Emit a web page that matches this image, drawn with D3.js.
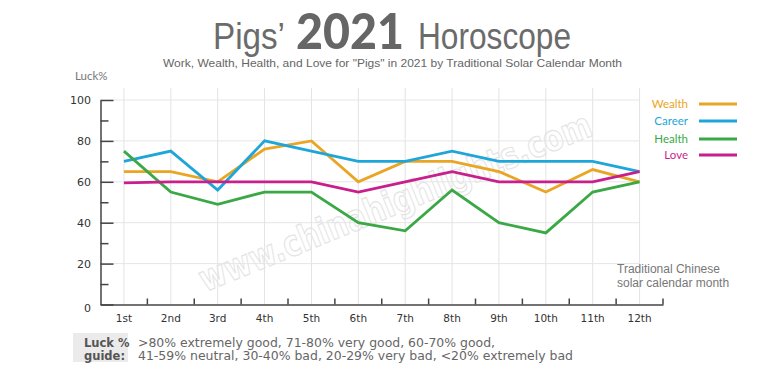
<!DOCTYPE html>
<html><head><meta charset="utf-8">
<script src="https://cdn.jsdelivr.net/npm/d3@7"></script>
<style>body{margin:0;background:#fff;} svg{display:block;}</style>
</head><body>
<svg id="c" width="768" height="369"></svg>
<script>
const months = ["1st","2nd","3rd","4th","5th","6th","7th","8th","9th","10th","11th","12th"];
const wealth = [65,65,60,76,80,60,70,70,65,55,66,60];
const career = [70,75,56,80,75,70,70,75,70,70,70,65];
const health = [75,55,49,55,55,40,36,56,40,35,55,60];
const love   = [59.5,60,60,60,60,55,60,65,60,60,60,65];
const seriesNames = ["Wealth","Career","Health","Love"];
const seriesColors = ["#e9a524","#1ea6d9","#3aa845","#c81f8c"];
const yTicks = [0,20,40,60,80,100];
const guideLines = [">80% extremely good, 71-80% very good, 60-70% good,",
  "41-59% neutral, 30-40% bad, 20-29% very bad, <20% extremely bad"];

const svg = d3.select("#c");
const x = d3.scaleBand().domain(months).range([100.5, 663]);
const y = d3.scaleLinear().domain([0,100]).range([304.5, 100]);
const cx = m => x(m) + x.bandwidth()/2;

// Title
const tf = "'Liberation Sans', Arial, sans-serif";
svg.append("text").attr("x",213).attr("y",49).attr("font-family",tf).attr("font-size",36)
  .attr("fill","#6b6b6b").attr("textLength",72).attr("lengthAdjust","spacingAndGlyphs").text("Pigs’");
svg.append("text").attr("x",296).attr("y",49).attr("font-family","'Lato', 'DejaVu Sans', sans-serif")
  .attr("font-weight",900).attr("font-size",50).attr("fill","#666")
  .attr("textLength",108).attr("lengthAdjust","spacingAndGlyphs").text("2021");
svg.append("text").attr("x",418).attr("y",49).attr("font-family",tf).attr("font-size",36)
  .attr("fill","#6b6b6b").attr("textLength",153).attr("lengthAdjust","spacingAndGlyphs").text("Horoscope");
svg.append("text").attr("x",163).attr("y",67).attr("font-family",tf).attr("font-size",11.5)
  .attr("fill","#666").attr("textLength",459).attr("lengthAdjust","spacingAndGlyphs")
  .text("Work, Wealth, Health, and Love for \"Pigs\" in 2021 by Traditional Solar Calendar Month");
svg.append("text").attr("x",75).attr("y",80).attr("font-family","'Lato', sans-serif").attr("font-size",11.5)
  .attr("fill","#777").text("Luck%");

// Watermark
svg.append("text").attr("transform","translate(205,292) rotate(-22)")
  .attr("font-family","'DejaVu Sans', Verdana, sans-serif").attr("font-size",36).attr("font-weight","bold")
  .attr("fill","none").attr("stroke","#e4e4e4").attr("stroke-width",1.2)
  .attr("textLength",420).attr("lengthAdjust","spacingAndGlyphs").text("www.chinahighlights.com");

// Gridlines
const g = svg.append("g");
g.selectAll(".vg").data(months).join("line")
  .attr("x1",cx).attr("x2",cx).attr("y1",88).attr("y2",304.5)
  .attr("stroke","#e3e3e3").attr("stroke-width",1);
g.selectAll(".hg").data(yTicks.slice(1)).join("line")
  .attr("x1",100.5).attr("x2",cx("12th")).attr("y1",d=>y(d)).attr("y2",d=>y(d))
  .attr("stroke","#e6e6e6").attr("stroke-width",1);

// Y axis
const yAxis = d3.axisRight(y).tickValues([0,10,20,30,40,50,60,70,80,90,100])
  .tickSize(0).tickFormat("");
const ya = svg.append("g").attr("transform","translate(100.5,0)").call(yAxis);
ya.select(".domain").attr("stroke","#444").attr("stroke-width",1.5);
ya.selectAll(".tick line").attr("stroke","#444").attr("stroke-width",1.5)
  .attr("x2",d=>d%20===0?13:8);
svg.selectAll(".ylab").data(yTicks).join("text")
  .attr("x",91).attr("y",d=>y(d)+(d===0?7:4)).attr("text-anchor","end")
  .attr("font-family","'DejaVu Sans', Verdana, sans-serif").attr("font-size",11)
  .attr("fill","#333").text(d=>d);

// X axis
const xa = svg.append("g").attr("transform","translate(0,304.5)")
  .call(d3.axisBottom(x).tickSize(0).tickFormat(""));
xa.select(".domain").attr("stroke","#444").attr("stroke-width",1.5);
xa.selectAll(".tick").remove();
xa.selectAll(".bt").data(months).join("line")
  .attr("x1",d=>x(d)+x.bandwidth()).attr("x2",d=>x(d)+x.bandwidth())
  .attr("y1",0).attr("y2",-6).attr("stroke","#444").attr("stroke-width",1.5);
svg.selectAll(".xlab").data(months).join("text")
  .attr("x",cx).attr("y",322).attr("text-anchor","middle")
  .attr("font-family","'DejaVu Sans', Verdana, sans-serif").attr("font-size",10.5)
  .attr("fill","#333").text(d=>d);

// Lines
const data = [wealth, career, health, love];
const line = d3.line().x((d,i)=>cx(months[i])).y(d=>y(d));
svg.selectAll(".ser").data(data).join("path")
  .attr("d",line).attr("fill","none")
  .attr("stroke",(d,i)=>seriesColors[i]).attr("stroke-width",2.8)
  .attr("stroke-linejoin","miter");

// Legend
const ly = [104,121,139,155];
seriesNames.forEach((n,i)=>{
  svg.append("text").attr("x",688).attr("y",ly[i]+4).attr("text-anchor","end")
    .attr("font-family","'Lato', sans-serif").attr("font-size",11.5).attr("fill",seriesColors[i]).text(n);
  svg.append("line").attr("x1",699).attr("x2",737).attr("y1",ly[i]).attr("y2",ly[i])
    .attr("stroke",seriesColors[i]).attr("stroke-width",3);
});

// Axis title
svg.append("text").attr("x",617).attr("y",273).attr("font-family",tf).attr("font-size",12)
  .attr("fill","#777").text("Traditional Chinese");
svg.append("text").attr("x",617).attr("y",287).attr("font-family",tf).attr("font-size",12)
  .attr("fill","#777").text("solar calendar month");

// Guide
svg.append("rect").attr("x",73).attr("y",333).attr("width",55).attr("height",29).attr("fill","#ebebeb");
svg.append("text").attr("x",84).attr("y",347).attr("font-family","'DejaVu Sans', Verdana, sans-serif")
  .attr("font-size",11.5).attr("font-weight","bold").attr("fill","#555").text("Luck %");
svg.append("text").attr("x",84).attr("y",360).attr("font-family","'DejaVu Sans', Verdana, sans-serif")
  .attr("font-size",11.5).attr("font-weight","bold").attr("fill","#555").text("guide:");
const gl = [357, 435];
guideLines.forEach((t,i)=>{
  svg.append("text").attr("x",138).attr("y",347+i*13).attr("font-family","'DejaVu Sans', Verdana, sans-serif")
    .attr("font-size",12).attr("fill","#666").attr("textLength",gl[i]).attr("lengthAdjust","spacingAndGlyphs").text(t);
});
</script>
</body></html>
